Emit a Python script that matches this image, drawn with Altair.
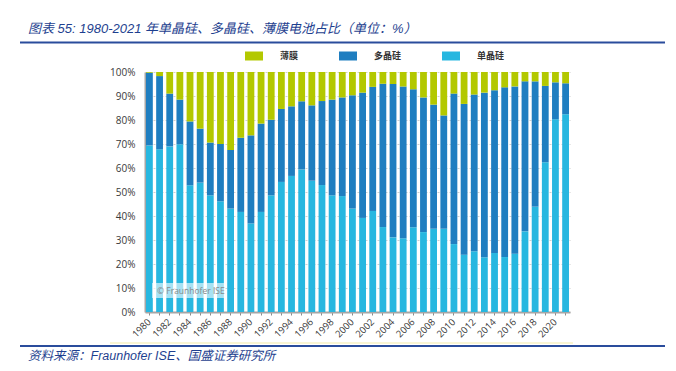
import altair as alt
import pandas as pd

# ---- data ----
years = list(range(1980, 2022))
mono = [69.4, 67.8, 69.0, 69.9, 52.8, 53.9, 48.6, 46.1, 43.1, 41.7,
        36.9, 41.7, 48.6, 54.2, 56.7, 59.4, 54.7, 52.9, 48.6, 48.3,
        43.1, 39.2, 42.1, 35.4, 31.1, 30.7, 35.3, 33.3, 34.7, 34.7,
        28.3, 23.9, 25.3, 22.8, 24.6, 22.9, 24.3, 33.6, 43.9, 62.4,
        80.3, 82.4]
poly = [30.3, 30.5, 22.0, 18.6, 26.6, 22.5, 22.0, 23.9, 24.4, 30.9,
        36.7, 36.8, 31.5, 30.4, 29.0, 28.4, 31.4, 35.0, 39.9, 41.1,
        47.2, 52.2, 51.7, 59.7, 63.9, 63.3, 57.5, 56.1, 51.7, 47.2,
        62.7, 62.8, 65.3, 68.6, 67.8, 70.7, 69.7, 62.5, 52.2, 31.8,
        15.4, 12.9]
thin = [0.3, 1.7, 9.0, 11.5, 20.6, 23.6, 29.4, 30.0, 32.5, 27.4,
        26.4, 21.5, 19.9, 15.4, 14.3, 12.2, 13.9, 12.1, 11.5, 10.6,
        9.7, 8.6, 6.2, 4.9, 5.0, 6.0, 7.2, 10.6, 13.6, 18.1,
        9.0, 13.3, 9.4, 8.6, 7.6, 6.4, 6.0, 3.9, 3.9, 5.8,
        4.3, 4.7]
series = ["薄膜", "多晶硅", "单晶硅"]
colors = ["#B3C800", "#1F7EC0", "#27B7E0"]
y_ticks = [0, 10, 20, 30, 40, 50, 60, 70, 80, 90, 100]

title_text = "图表 55:  1980-2021 年单晶硅、多晶硅、薄膜电池占比（单位：%）"
source_text = "资料来源：Fraunhofer ISE、国盛证券研究所"
watermark_text = "© Fraunhofer ISE"

rows = []
for i, yr in enumerate(years):
    rows.append({"year": yr, "type": "单晶硅", "value": mono[i], "ord": 1})
    rows.append({"year": yr, "type": "多晶硅", "value": poly[i], "ord": 2})
    rows.append({"year": yr, "type": "薄膜", "value": thin[i], "ord": 3})
df = pd.DataFrame(rows)

W, H = 425, 240
CJK = "Noto Sans CJK SC"
LAT = "Liberation Sans, Noto Sans CJK SC"
BLUE = "#1E3F8F"

bars = alt.Chart(df).mark_bar().encode(
    x=alt.X("year:O",
            scale=alt.Scale(paddingInner=0.33, paddingOuter=0.1),
            axis=alt.Axis(title=None, labelAngle=315, labelAlign="right",
                          labelBaseline="middle", labelFontSize=9.5,
                          labelFont="Open Sans", labelColor="#3A3A3A",
                          labelExpr="datum.value % 2 == 0 ? datum.label : ''",
                          labelPadding=5, tickSize=3, tickColor="#8C8C8C",
                          domainColor="#A6A6A6", domainWidth=2, grid=False,
                          labelOverlap=False)),
    y=alt.Y("value:Q", stack="zero",
            scale=alt.Scale(domain=[0, 100], nice=False),
            axis=alt.Axis(title=None, values=y_ticks, labelExpr="datum.value + '%'",
                          labelFontSize=10, labelFont="Open Sans", labelColor="#3A3A3A",
                          ticks=False, labelPadding=10, domainColor="#A6A6A6",
                          domainWidth=2, grid=True, gridColor="#C4C4C4",
                          gridDash=[2, 2], gridWidth=0.8)),
    color=alt.Color("type:N",
                    scale=alt.Scale(domain=series, range=colors),
                    legend=alt.Legend(title=None, orient="none", legendX=100, legendY=-25,
                                      direction="horizontal",
                                      symbolType="M-1,-0.5H1V0.5H-1Z", symbolSize=324,
                                      symbolStrokeWidth=0, symbolOpacity=1,
                                      labelFont=CJK, labelFontSize=9, labelFontWeight="bold",
                                      labelColor="#333333", labelOffset=17,
                                      columnPadding=40, padding=0)),
    order=alt.Order("ord:Q", sort="ascending"),
)

one = pd.DataFrame({"k": [0]})

wm_box = alt.Chart(one).mark_rect(color="white", opacity=0.6).encode(
    x=alt.value(7), x2=alt.value(79), y=alt.value(211), y2=alt.value(226))
wm_text = alt.Chart(pd.DataFrame({"t": [watermark_text]})).mark_text(
    align="left", baseline="middle", font="Open Sans", fontSize=8.5, color="#8A8A8A"
).encode(text="t:N", x=alt.value(12), y=alt.value(219))

title = alt.Chart(pd.DataFrame({"t": [title_text]})).mark_text(
    align="left", baseline="middle", font=LAT, fontSize=13, fontStyle="italic", color=BLUE
).encode(text="t:N", x=alt.value(-117), y=alt.value(-43))

top_rule = alt.Chart(one).mark_rule(color="#2A4C9C", strokeWidth=2).encode(
    x=alt.value(-125), x2=alt.value(520), y=alt.value(-29.5))

img_border = alt.Chart(one).mark_rule(color="#F3EBA6", strokeWidth=1).encode(
    x=alt.value(-35), x2=alt.value(428), y=alt.value(271))

bottom_rule = alt.Chart(one).mark_rule(color="#2A4C9C", strokeWidth=2).encode(
    x=alt.value(-125), x2=alt.value(520), y=alt.value(274))

source = alt.Chart(pd.DataFrame({"t": [source_text]})).mark_text(
    align="left", baseline="middle", font=LAT, fontSize=12.5, fontStyle="italic", color=BLUE
).encode(text="t:N", x=alt.value(-117), y=alt.value(284))

chart = alt.layer(bars, wm_box, wm_text, title, top_rule, img_border, bottom_rule, source).properties(
    width=W, height=H,
    autosize=alt.AutoSizeParams(type="none"),
    padding={"left": 137, "top": 64, "right": 98, "bottom": 51},
    background="white",
).configure_view(strokeWidth=0)

chart.save("out.html", embed_options={"renderer": "svg", "actions": False})
